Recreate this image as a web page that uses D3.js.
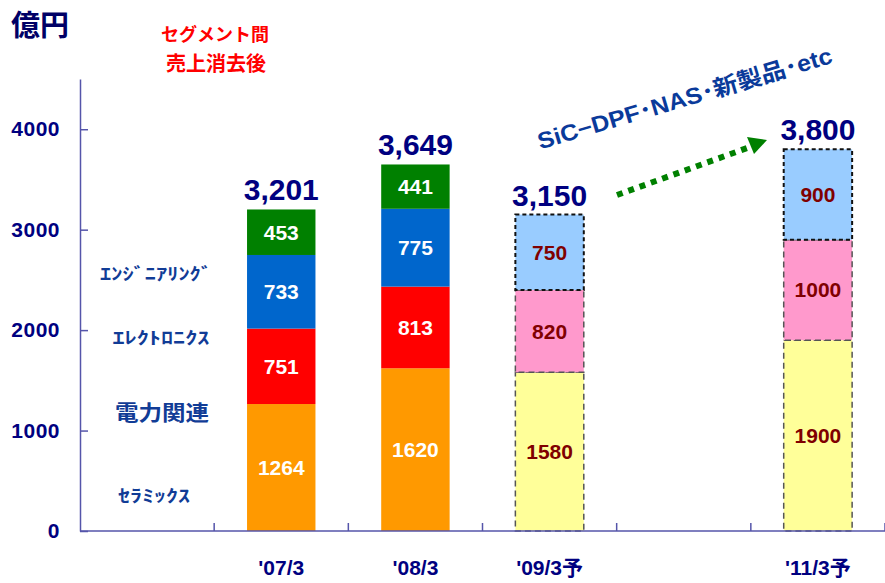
<!DOCTYPE html>
<html><head><meta charset="utf-8">
<script src="https://cdn.jsdelivr.net/npm/d3@7"></script>
<style>
html,body{margin:0;padding:0;background:#fff;}
svg{display:block;}
</style></head>
<body>
<svg id="chart" width="885" height="583"></svg>
<script>
// ---- data ----
const categories = ["", "'07/3", "'08/3", "'09/3予", "", "'11/3予"];
// actual results (segments, bottom to top)
const ceramics    = [0, 1264, 1620, 0, 0, 0];
const power       = [0, 751, 813, 0, 0, 0];
const electronics = [0, 733, 775, 0, 0, 0];
const engineering = [0, 453, 441, 0, 0, 0];
// forecasts (bottom to top)
const fcLower  = [0, 0, 0, 1580, 0, 1900];
const fcMiddle = [0, 0, 0, 820, 0, 1000];
const fcUpper  = [0, 0, 0, 750, 0, 900];
const totals   = [null, "3,201", "3,649", "3,150", null, "3,800"];
const yTicks   = [0, 1000, 2000, 3000, 4000];
const segmentNames = ["ｾﾗﾐｯｸｽ", "電力関連", "ｴﾚｸﾄﾛﾆｸｽ", "ｴﾝｼﾞﾆｱﾘﾝｸﾞ"];

const seriesDefs = [
  {key:"ceramics", vals:ceramics, fill:"#FF9900", fc:false},
  {key:"power", vals:power, fill:"#FF0000", fc:false},
  {key:"electronics", vals:electronics, fill:"#0066CC", fc:false},
  {key:"engineering", vals:engineering, fill:"#008000", fc:false},
  {key:"fcLower", vals:fcLower, fill:"#FFFF99", fc:true, stroke:"#555"},
  {key:"fcMiddle", vals:fcMiddle, fill:"#FF99CC", fc:true, stroke:"#555"},
  {key:"fcUpper", vals:fcUpper, fill:"#99CCFF", fc:true, stroke:"#111"}
];

const svg = d3.select("#chart");
const X0 = 80, X1 = 885, Y0 = 531, Y1 = 79;
const idx = categories.map((d,i)=>i);
const x = d3.scaleBand().domain(idx).range([X0, X1]).paddingInner(0.49).paddingOuter(0.245);
const y = d3.scaleLinear().domain([0, 4500]).range([Y0, Y1]);
const step = x.step();
const LAT = "'Liberation Sans', Arial, sans-serif";
const JP = "'Noto Sans CJK JP', sans-serif";
const axisColor = "#5555AA";

// rows & stack
const rows = idx.map(i => {
  const r = {i};
  seriesDefs.forEach(s => r[s.key] = s.vals[i]);
  return r;
});
const stacked = d3.stack().keys(seriesDefs.map(s=>s.key))(rows);

const gBars = svg.append("g");
stacked.forEach((layer, li) => {
  const def = seriesDefs[li];
  layer.forEach(seg => {
    const i = seg.data.i;
    const v = seg[1] - seg[0];
    if (!v) return;
    const bx = x(i), bw = x.bandwidth();
    const yt = y(seg[1]), yb = y(seg[0]);
    gBars.append("rect")
      .attr("x", bx).attr("y", yt).attr("width", bw).attr("height", yb - yt)
      .attr("fill", def.fill)
      .attr("stroke", def.fc ? def.stroke : "none")
      .attr("stroke-width", def.fc ? (def.key==="fcUpper"?2:1.5) : 0)
      .attr("stroke-dasharray", def.fc ? (def.key==="fcUpper"?"4,3":"6,4") : null);
    gBars.append("text")
      .attr("x", bx + bw/2).attr("y", (yt+yb)/2)
      .attr("dy", "0.36em")
      .attr("text-anchor", "middle")
      .attr("font-family", LAT).attr("font-weight", "bold").attr("font-size", 21)
      .attr("fill", def.fc ? "#800000" : "#FFFFFF")
      .text(v);
  });
});

// totals
const topVals = rows.map(r => seriesDefs.reduce((a,s)=>a + r[s.key], 0));
idx.forEach(i => {
  if (!totals[i]) return;
  svg.append("text")
    .attr("x", x(i) + x.bandwidth()/2)
    .attr("y", y(topVals[i]) - 9)
    .attr("text-anchor", "middle")
    .attr("font-family", LAT).attr("font-weight", "bold").attr("font-size", 30)
    .attr("fill", "#000080")
    .text(totals[i]);
});

// y axis
const yAxis = d3.axisLeft(y).tickValues(yTicks).tickFormat(d3.format("d"))
  .tickSizeInner(-8).tickSizeOuter(0).tickPadding(20);
const gy = svg.append("g").attr("transform", `translate(${X0},0)`).call(yAxis);
gy.select(".domain").attr("stroke", axisColor).attr("stroke-width", 1.5);
gy.selectAll(".tick line").attr("stroke", axisColor).attr("stroke-width", 1.5);
gy.selectAll(".tick text").attr("font-family", LAT).attr("font-weight","bold")
  .attr("font-size", 21).attr("fill", "#000080").attr("letter-spacing", 0.5);

// x axis line and boundary ticks
svg.append("line").attr("x1", X0).attr("x2", X1).attr("y1", Y0).attr("y2", Y0)
  .attr("stroke", axisColor).attr("stroke-width", 1.5);
idx.slice(1).concat([categories.length]).forEach(k => {
  const tx = X0 + k * step;
  svg.append("line").attr("x1", tx).attr("x2", tx).attr("y1", Y0).attr("y2", Y0 - 8)
    .attr("stroke", axisColor).attr("stroke-width", 1.5);
});
idx.forEach(i => {
  if (!categories[i]) return;
  svg.append("text")
    .attr("x", x(i) + x.bandwidth()/2).attr("y", 575)
    .attr("text-anchor", "middle")
    .attr("font-family", LAT + ", " + JP).attr("font-weight", "bold").attr("font-size", 21)
    .attr("fill", "#000080")
    .text(categories[i]);
});

// unit & notes
svg.append("text").attr("x", 11).attr("y", 36)
  .attr("font-family", JP).attr("font-weight", "bold").attr("font-size", 29)
  .attr("fill", "#000066").text("億円");
svg.append("text").attr("x", 215).attr("y", 41).attr("text-anchor","middle")
  .attr("font-family", JP).attr("font-weight", "bold").attr("font-size", 18)
  .attr("fill", "#FF0000").text("セグメント間");
svg.append("text").attr("x", 216).attr("y", 71).attr("text-anchor","middle")
  .attr("font-family", JP).attr("font-weight", "bold").attr("font-size", 20)
  .attr("fill", "#FF0000").text("売上消去後");

// segment name labels on the left
const segLabelVals = [350, 1180, 1920, 2560];
const segLabelX = [154, 162, 161, 156];
const segLabelSize = [17, 21, 17, 17];
const segLabelLen = [72, 94, 97, 112];
segmentNames.forEach((t, k) => {
  svg.append("text")
    .attr("x", segLabelX[k]).attr("y", y(segLabelVals[k]))
    .attr("dy", "0.36em").attr("text-anchor", "middle")
    .attr("font-family", JP).attr("font-weight", "bold").attr("font-size", segLabelSize[k])
    .attr("fill", "#113C96")
    .attr("textLength", segLabelLen[k]).attr("lengthAdjust", "spacingAndGlyphs")
    .text(t);
});

// rotated annotation
svg.append("text")
  .attr("transform", "translate(687,106) rotate(-16.5)")
  .attr("text-anchor", "middle")
  .attr("font-family", LAT + ", " + JP).attr("font-weight", "bold").attr("font-size", 23)
  .attr("fill", "#0A3A9A")
  .attr("textLength", 306).attr("lengthAdjust", "spacingAndGlyphs")
  .text("SiC−DPF･NAS･新製品･etc");

// dotted green arrow
const arrowPts = [[617, 195], [750, 147]];
svg.append("path")
  .attr("d", d3.line()(arrowPts))
  .attr("stroke", "#008000").attr("stroke-width", 6)
  .attr("stroke-dasharray", "6,6").attr("fill", "none");
svg.append("path")
  .attr("d", "M767,140 L747,137 L754,154 Z")
  .attr("fill", "#008000");
</script>
</body></html>
